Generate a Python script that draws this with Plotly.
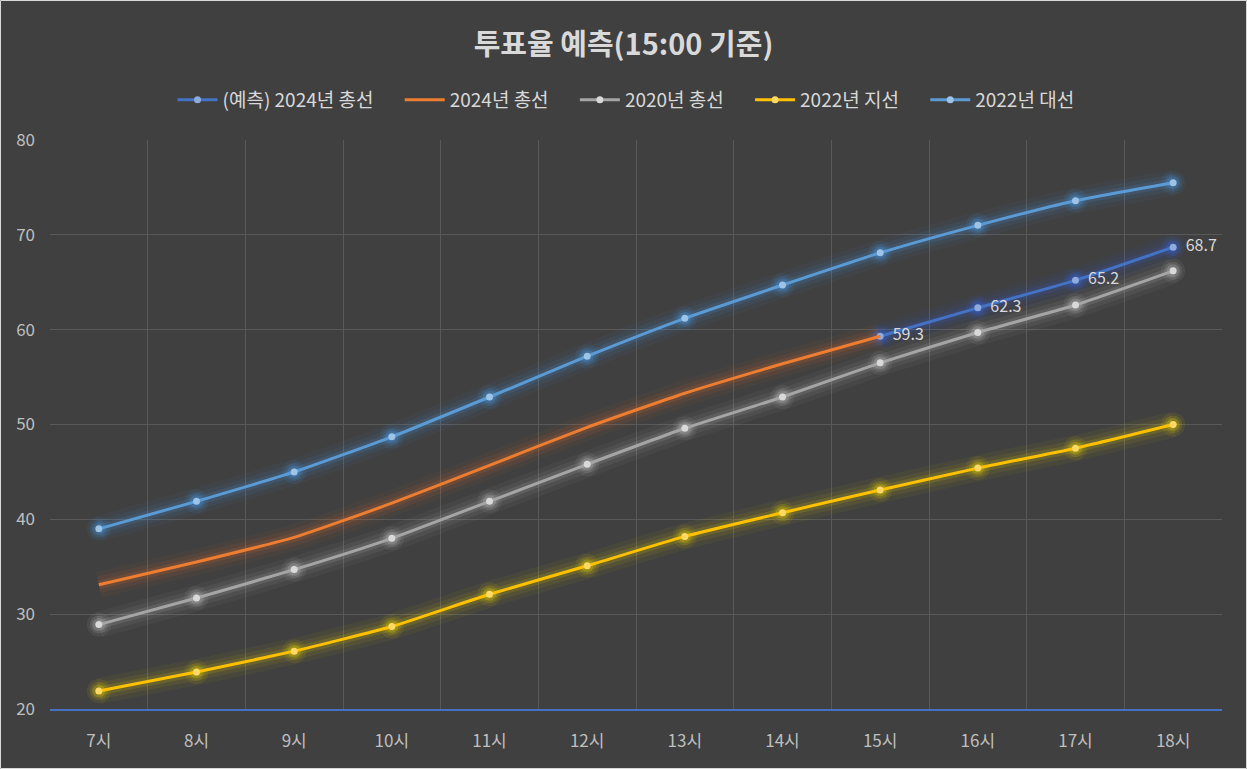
import plotly.graph_objects as go

hours = ["7시", "8시", "9시", "10시", "11시", "12시", "13시", "14시", "15시", "16시", "17시", "18시"]
pred_2024 = [None, None, None, None, None, None, None, None, 59.3, 62.3, 65.2, 68.7]
gen_2024 = [33.1, 35.5, 38.1, 41.7, 45.7, 49.7, 53.3, 56.4, 59.3, None, None, None]
gen_2020 = [28.9, 31.7, 34.7, 38.0, 41.9, 45.8, 49.6, 52.9, 56.5, 59.7, 62.6, 66.2]
local_2022 = [21.9, 23.9, 26.1, 28.7, 32.1, 35.1, 38.2, 40.7, 43.1, 45.4, 47.5, 50.0]
pres_2022 = [39.0, 41.9, 45.0, 48.7, 52.9, 57.2, 61.2, 64.7, 68.1, 71.0, 73.6, 75.5]
pred_labels = [None if v is None else "\u00a0\u00a0" + f"{v:.1f}" for v in pred_2024]

FONT = "Noto Sans CJK KR, Noto Sans, sans-serif"
PAD = "\u00a0" * 5

series = [
    ("(예측) 2024년 총선", pred_2024, "#4472C4", "#8FAADC", (50, 100, 230), True),
    ("2024년 총선", gen_2024, "#ED7D31", "#ED7D31", (237, 110, 40), False),
    ("2020년 총선", gen_2020, "#A5A5A5", "#D9D9D9", (190, 190, 190), True),
    ("2022년 지선", local_2022, "#FFC000", "#FFD966", (230, 210, 0), True),
    ("2022년 대선", pres_2022, "#5B9BD5", "#9DC3E6", (70, 150, 230), True),
]

fig = go.Figure()

# glow layers
for name, vals, lc, mc, g, mk in series:
    for w, a, ms in [(26, 0.05, 24), (17, 0.08, 18), (9, 0.14, 13)]:
        fig.add_trace(go.Scatter(
            x=hours, y=vals, mode="lines+markers" if mk else "lines",
            line=dict(color=f"rgba({g[0]},{g[1]},{g[2]},{a})", width=w, shape="spline", smoothing=0.5),
            marker=dict(size=ms, color=f"rgba({g[0]},{g[1]},{g[2]},{a*1.8})"),
            showlegend=False, hoverinfo="skip", connectgaps=False,
        ))

for name, vals, lc, mc, g, mk in series:
    kw = {}
    if name.startswith("(예측)"):
        mode = "lines+markers+text"
        kw = dict(text=pred_labels, textposition="middle right",
                  textfont=dict(color="#D9D9D9", size=16, family=FONT), cliponaxis=False)
    else:
        mode = "lines+markers" if mk else "lines"
    fig.add_trace(go.Scatter(
        x=hours, y=vals, name=name + PAD, mode=mode,
        line=dict(color=lc, width=3, shape="spline", smoothing=0.5),
        marker=dict(size=7, color=mc),
        **kw,
    ))

W, H = 1247, 769
ml, mr, mt, mb = 50, 25, 140, 60
pw, ph = W - ml - mr, H - mt - mb

fig.update_layout(
    width=W, height=H,
    paper_bgcolor="#404040", plot_bgcolor="#404040",
    margin=dict(l=ml, r=mr, t=mt, b=mb, autoexpand=False),
    font=dict(family=FONT, color="#BFBFBF", size=17),
    title=dict(text="<b>투표율 예측(15:00 기준)</b>", x=0.5, xref="container", xanchor="center",
               y=1 - 45 / H, yref="container", yanchor="middle",
               font=dict(size=29, color="#D9D9D9", family=FONT)),
    legend=dict(orientation="h", x=0.5 + 13 / W, xanchor="center", xref="container",
                y=1 - 100 / H, yref="container", yanchor="middle",
                font=dict(size=19, color="#D9D9D9", family=FONT),
                bgcolor="rgba(0,0,0,0)", itemwidth=40),
    showlegend=True,
    shapes=[dict(type="rect", xref="paper", yref="paper",
                 x0=-(ml - 0.5) / pw, x1=1 + (mr - 0.5) / pw,
                 y0=-(mb - 0.5) / ph, y1=1 + (mt - 0.5) / ph,
                 line=dict(color="#D9D9D9", width=1), layer="below")],
)

fig.update_xaxes(type="category", range=[-0.5, 11.5], tickson="boundaries",
                 showgrid=True, gridcolor="#595959", gridwidth=1,
                 showline=True, linecolor="#4472C4", linewidth=1.5,
                 ticks="", ticklabelstandoff=16,
                 tickfont=dict(size=17, color="#BFBFBF"), zeroline=False)
fig.update_yaxes(range=[20, 80], dtick=10, showgrid=True, gridcolor="#595959", gridwidth=1,
                 zeroline=False, showline=False, ticks="", ticklabelstandoff=14,
                 tickfont=dict(size=17, color="#BFBFBF"))

fig.write_html("out.html")
